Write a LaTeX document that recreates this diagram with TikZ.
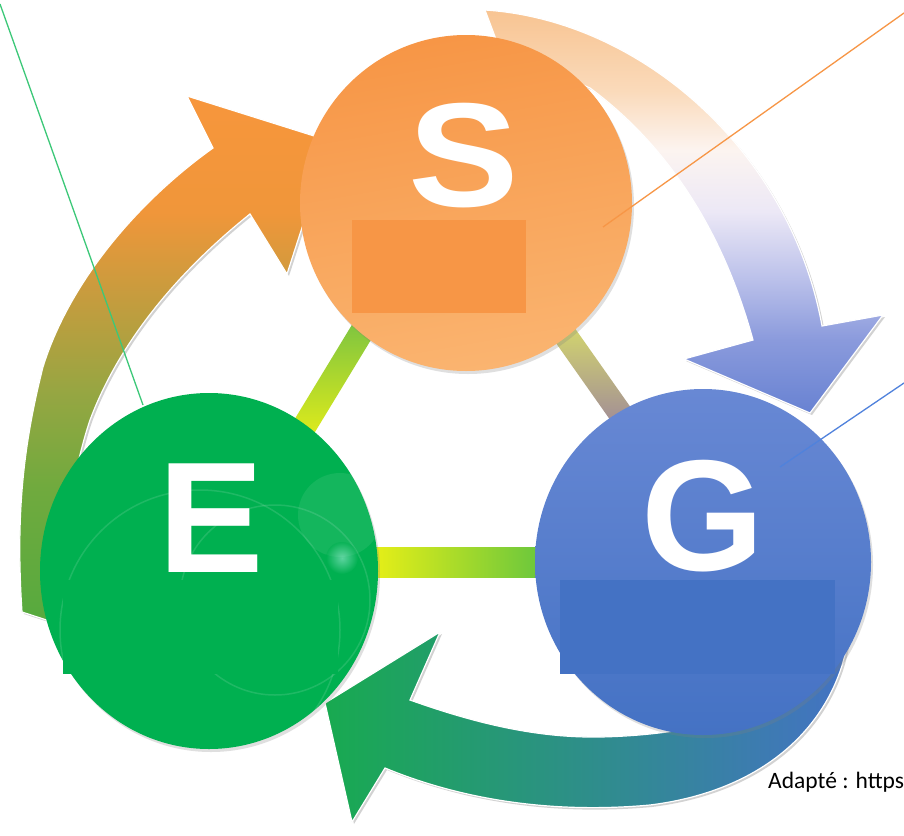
\documentclass[tikz,border=0pt]{standalone}
\usepackage{fontspec}
\setmainfont{Liberation Sans}
\newfontfamily\capfont{Carlito}
\usetikzlibrary{shadows}
\definecolor{offorange}{RGB}{247,150,70}
\definecolor{offgreen}{RGB}{0,176,80}
\definecolor{offblue}{RGB}{68,114,196}
\definecolor{lightorange}{RGB}{250,180,112}
\definecolor{lightblue}{RGB}{104,136,212}
\definecolor{arrgreen}{RGB}{24,170,80}
\definecolor{teal}{RGB}{44,150,140}
\definecolor{barfirst}{RGB}{110,190,70}
\definecolor{baryellow}{RGB}{240,242,20}
\definecolor{barpale}{RGB}{222,230,100}
\definecolor{barpurple}{RGB}{150,124,160}
\definecolor{linegreen}{RGB}{60,200,120}
\definecolor{lineblue}{RGB}{80,130,220}
% stops for the orange-to-blue arrow (bottom to top)
\definecolor{bA}{RGB}{104,130,210}
\definecolor{bB}{RGB}{138,154,220}
\definecolor{bC}{RGB}{186,192,234}
\definecolor{bD}{RGB}{236,232,246}
\definecolor{bE}{RGB}{252,244,240}
\definecolor{bF}{RGB}{250,218,186}
\definecolor{bG}{RGB}{248,196,146}
\pgfdeclareverticalshading{bshade}{100bp}{color(0bp)=(bA); color(25bp)=(bA); color(34bp)=(bB); color(41.5bp)=(bC); color(50bp)=(bD); color(57.6bp)=(bE); color(65bp)=(bF); color(75bp)=(bG); color(100bp)=(bG)}
% stops for the green-to-orange arrow (bottom to top)
\definecolor{aA}{RGB}{86,170,62}
\definecolor{aB}{RGB}{112,170,62}
\definecolor{aC}{RGB}{150,166,66}
\definecolor{aD}{RGB}{198,156,62}
\definecolor{aE}{RGB}{240,150,58}
\definecolor{aF}{RGB}{247,150,60}
\pgfdeclareverticalshading{ashade}{100bp}{color(0bp)=(aA); color(25bp)=(aA); color(38bp)=(aB); color(47bp)=(aC); color(56bp)=(aD); color(64bp)=(aE); color(75bp)=(aF); color(100bp)=(aF)}
\tikzset{
  bigarrow/.style={draw=white, line width=1.2pt, line join=miter,
    drop shadow={opacity=0.35, shadow xshift=2pt, shadow yshift=-2pt}},
  ball/.style={drop shadow={opacity=0.25, shadow xshift=2pt, shadow yshift=-3pt}},
  letter/.style={inner sep=0pt, anchor=base, text=white},
  thinline/.style={line width=1.3pt},
  flare/.style={draw=white, line width=1.5pt, opacity=0.12}
}
\begin{document}
\begin{tikzpicture}[x=1pt,y=-1pt]
\clip (0,0) rectangle (904,835);
\fill[white] (0,0) rectangle (904,835);

% connecting bars
\shade[top color=barfirst, bottom color=baryellow]
  (385.3,316.2) -- (364.7,303.8) -- (279.7,443.8) -- (300.3,456.2) -- cycle;
\shade[top color=barpale, bottom color=barpurple]
  (557.5,303.6) -- (537.9,317.4) -- (629.2,446.9) -- (648.8,433.1) -- cycle;
\shade[left color=baryellow, right color=barfirst!90!green]
  (360,547) rectangle (550,577);

% curved arrows
\shade[bigarrow, shading=ashade]
  (22,612) .. controls (16,520) and (22,450) .. (43,367)
  .. controls (70,280) and (140,200) .. (213,148)
  -- (187,96) -- (330,141) -- (287,274) -- (250,214)
  .. controls (180,270) and (120,340) .. (90,420)
  .. controls (70,480) and (60,560) .. (62,625) -- cycle;
\shade[bigarrow, shading=bshade]
  (485,10) .. controls (640,20) and (790,150) .. (822,326)
  -- (883,315) -- (810,413) -- (684,359) -- (753,340)
  .. controls (720,220) and (660,140) .. (590,88)
  -- (500,50) -- cycle;
\shade[bigarrow, left color=arrgreen, middle color=teal, right color=offblue]
  (848,640) .. controls (835,720) and (770,790) .. (650,805)
  .. controls (540,815) and (450,795) .. (385,768)
  -- (352,822) -- (325,703) -- (440,632) -- (410,700)
  .. controls (480,725) and (540,738) .. (600,737)
  .. controls (700,735) and (790,710) .. (835,660) -- cycle;

% circles
\shade[ball, left color=offorange, right color=lightorange, shading angle=10]
  (466,203) ellipse [x radius=166, y radius=168];
\shade[ball, top color=lightblue, bottom color=offblue]
  (703,562) ellipse [x radius=168, y radius=173];
\fill[ball, offgreen] (209,571) ellipse [x radius=169, y radius=178];

% lens flare on E
\draw[flare] (200,630) circle (140);
\draw[flare] (275,600) circle (95);
\fill[white, opacity=0.08] (340,515) circle (42);
\shade[inner color=white!80!cyan, outer color=offgreen, opacity=0.45] (342,558) circle (16);

% cover rectangles
\fill[offorange] (352,220) rectangle (526,313);
\fill[offgreen] (63,580) rectangle (338,674);
\fill[offblue] (560,580) rectangle (835,674);

% letters
\node[letter, font=\bfseries\fontsize{148}{148}\selectfont] (tS) at (464,206)
  {\scalebox{1.12}[1]{S}};
\node[letter, font=\bfseries\fontsize{158}{158}\selectfont] (tE) at (211,572) {E};
\node[letter, font=\bfseries\fontsize{158}{158}\selectfont] (tG) at (703,570) {G};

% thin pointer lines
\coordinate (ga) at (0,4);
\coordinate (gb) at (143,405);
\coordinate (oa) at (904,13);
\coordinate (ob) at (603,227);
\coordinate (ba) at (904,383);
\coordinate (bb) at (780,467);
\draw[thinline, linegreen] (ga) -- (gb);
\draw[thinline, offorange] (oa) -- (ob);
\draw[thinline, lineblue] (ba) -- (bb);

% source note
\node[anchor=base west, inner sep=0pt, font=\capfont\fontsize{23.5}{23.5}\selectfont] (src) at (768,788) {Adapté : https};
\end{tikzpicture}
\end{document}
